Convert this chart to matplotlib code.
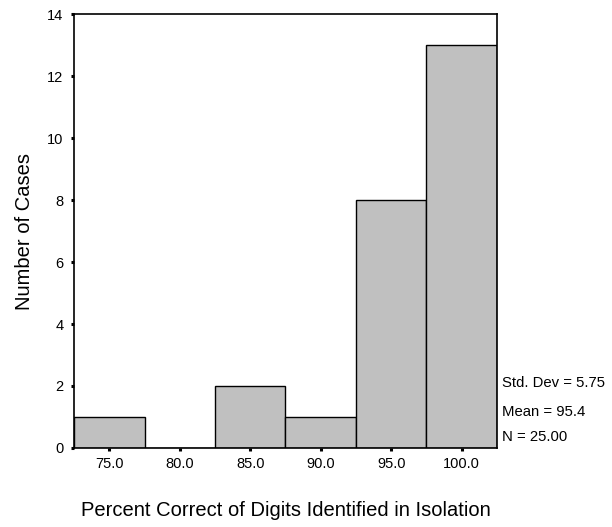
import numpy as np
import matplotlib.pyplot as plt

plt.rcParams['font.family'] = ['Liberation Sans', 'DejaVu Sans']

# Histogram of percent correct (bin centres and counts)
bin_centers = [75.0, 80.0, 85.0, 90.0, 95.0, 100.0]
counts = [1, 0, 2, 1, 8, 13]
bin_width = 5.0
tick_labels = ['75.0', '80.0', '85.0', '90.0', '95.0', '100.0']
stats_lines = ['Std. Dev = 5.75', 'Mean = 95.4', 'N = 25.00']

fig = plt.figure(figsize=(6.12, 5.27), dpi=100)
ax = fig.add_axes([0.121, 0.150, 0.691, 0.823])

ax.bar(bin_centers, counts, width=bin_width, color='#c0c0c0',
       edgecolor='black', linewidth=1.0)

ax.set_xlim(bin_centers[0] - bin_width / 2, bin_centers[-1] + bin_width / 2)
ax.set_ylim(0, 14)
ax.set_xticks(bin_centers)
ax.set_xticklabels(tick_labels)
ax.set_yticks(np.arange(0, 15, 2))

for s in ax.spines.values():
    s.set_linewidth(1.2)
ax.tick_params(direction='out', length=2.2, width=2.2, labelsize=10.5)
ax.tick_params(axis='y', pad=5.5)
ax.tick_params(axis='x', pad=4)

ax.set_ylabel('Number of Cases', fontsize=14.5, labelpad=9)
ax.set_xlabel('Percent Correct of Digits Identified in Isolation', fontsize=14.5, labelpad=22)

# summary statistics to the right of the plot
for line, yv in zip(stats_lines, [2.1, 1.15, 0.35]):
    ax.text(1.013, yv / 14, line, fontsize=10.7, va='center', ha='left',
            transform=ax.transAxes)

fig.savefig('out.png', dpi=100)
